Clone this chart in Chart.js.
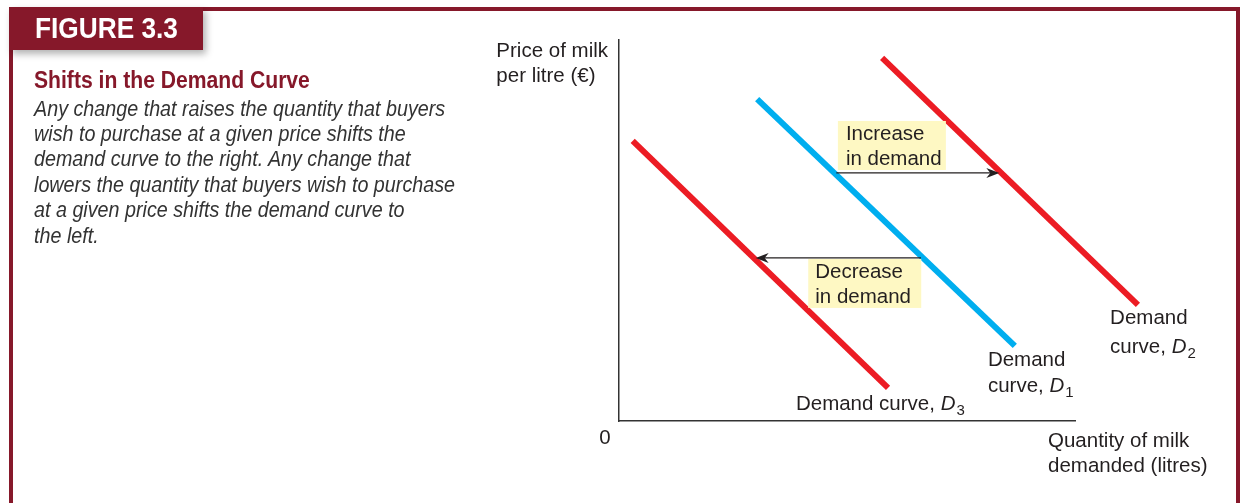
<!DOCTYPE html>
<html>
<head>
<meta charset="utf-8">
<script src="https://cdn.jsdelivr.net/npm/chart.js@4.4.0/dist/chart.umd.min.js"></script>
<style>
  html, body { margin: 0; padding: 0; background: #fff; }
  #wrap { position: relative; width: 1244px; height: 503px; overflow: hidden; }
  #myChart { position: absolute; left: 0; top: 0; }
  .frame { position: absolute; left: 9px; top: 7px; width: 1223px; height: 520px;
    border-top: 4px solid #86182a; border-left: 4px solid #86182a; border-right: 4px solid #86182a; }
  .tab { position: absolute; left: 9px; top: 7px; width: 194px; height: 43px; background: #86182a;
    box-shadow: 3px 4px 7px rgba(0,0,0,0.3); }
  .fit { position: absolute; white-space: nowrap; transform-origin: 0 0; font-family: "Liberation Sans", Arial, sans-serif; }
  .tabtxt { left: 35px; top: 12px; color: #fff; font-weight: bold; font-size: 29px; line-height: 32px; }
  .title { left: 34px; top: 67px; color: #86182a; font-weight: bold; font-size: 23.5px; line-height: 26px; }
  .desc { left: 34px; color: #333; font-style: italic; font-size: 21.5px; line-height: 24px; }
</style>
</head>
<body>
<div id="wrap">
  <canvas id="myChart" width="1244" height="503"></canvas>
  <div class="frame"></div>
  <div class="tab"></div>
  <div class="fit tabtxt" data-w="143">FIGURE 3.3</div>
  <div class="fit title" data-w="276">Shifts in the Demand Curve</div>
  <div class="fit desc" style="top:97px" data-w="411">Any change that raises the quantity that buyers</div>
  <div class="fit desc" style="top:122px">wish to purchase at a given price shifts the</div>
  <div class="fit desc" style="top:147px">demand curve to the right. Any change that</div>
  <div class="fit desc" style="top:173px">lowers the quantity that buyers wish to purchase</div>
  <div class="fit desc" style="top:198px">at a given price shifts the demand curve to</div>
  <div class="fit desc" style="top:224px">the left.</div>
</div>
<script>
// squeeze the side panel text to a condensed look
(function () {
  const els = document.querySelectorAll(".fit");
  let descScale = 1;
  els.forEach((el) => {
    if (el.dataset.w) {
      const s = Number(el.dataset.w) / el.offsetWidth;
      el.style.transform = "scaleX(" + s + ")";
      if (el.classList.contains("desc")) descScale = s;
    }
  });
  els.forEach((el) => {
    if (!el.dataset.w && el.classList.contains("desc")) el.style.transform = "scaleX(" + descScale + ")";
  });
})();

// demand curves: quantity (x) and price (y) at the two ends of each line
const d1Quantity = [3.03, 8.68];
const d1Price = [8.45, 1.97];
const d2Quantity = [5.77, 11.38];
const d2Price = [9.53, 3.05];
const d3Quantity = [0.30, 5.90];
const d3Price = [7.35, 0.87];

// prices at which the shift arrows are drawn
const increasePrice = 6.51;
const decreasePrice = 4.28;

const RED = "#ec1c24";
const BLUE = "#00aeef";
const TXT = "#231f20";
const FONT = '"Liberation Sans", Arial, sans-serif';
const FS = 20.5;

const pts = (xs, ys) => xs.map((x, i) => ({ x: x, y: ys[i] }));

// quantity on a curve at a given price
function qAt(xs, ys, p) {
  return xs[0] + (p - ys[0]) * (xs[1] - xs[0]) / (ys[1] - ys[0]);
}

function arrow(ctx, x0, x1, y) {
  ctx.save();
  ctx.strokeStyle = TXT;
  ctx.fillStyle = TXT;
  ctx.lineWidth = 1.2;
  const dir = Math.sign(x1 - x0);
  ctx.beginPath();
  ctx.moveTo(x0, y);
  ctx.lineTo(x1 - dir * 6, y);
  ctx.stroke();
  ctx.beginPath();
  ctx.moveTo(x1, y);
  ctx.lineTo(x1 - dir * 13, y - 5);
  ctx.lineTo(x1 - dir * 9, y);
  ctx.lineTo(x1 - dir * 13, y + 5);
  ctx.closePath();
  ctx.fill();
  ctx.restore();
}

function box(ctx, x, y, w, h) {
  ctx.save();
  ctx.fillStyle = "#fef8c3";
  ctx.fillRect(x, y, w, h);
  ctx.restore();
}

// text with an italic D and a subscript number
function curveLabel(ctx, x, y, pre, num) {
  ctx.font = FS + "px " + FONT;
  ctx.fillText(pre, x, y);
  let w = ctx.measureText(pre).width;
  ctx.font = "italic " + FS + "px " + FONT;
  ctx.fillText("D", x + w, y);
  w += ctx.measureText("D").width;
  ctx.font = "15px " + FONT;
  ctx.fillText(num, x + w + 1, y + 7);
  ctx.font = FS + "px " + FONT;
}

const annotations = {
  id: "annotations",
  afterDatasetsDraw(chart) {
    const { ctx, scales: { x, y } } = chart;
    const X = (v) => x.getPixelForValue(v);
    const Y = (v) => y.getPixelForValue(v);

    // shift arrows
    const yi = Y(increasePrice);
    const yd = Y(decreasePrice);
    box(ctx, X(4.8), yi - 52, 108, 49);
    box(ctx, X(4.15), yd + 1, 113, 49);
    arrow(ctx, X(qAt(d1Quantity, d1Price, increasePrice)) + 2, X(qAt(d2Quantity, d2Price, increasePrice)) - 2, yi);
    arrow(ctx, X(qAt(d1Quantity, d1Price, decreasePrice)) - 2, X(qAt(d3Quantity, d3Price, decreasePrice)) + 2, yd);

    ctx.save();
    ctx.fillStyle = TXT;
    ctx.textBaseline = "middle";
    ctx.textAlign = "left";
    ctx.font = FS + "px " + FONT;
    ctx.fillText("Increase", X(4.8) + 8, yi - 39);
    ctx.fillText("in demand", X(4.8) + 8, yi - 14);
    ctx.fillText("Decrease", X(4.15) + 7, yd + 14);
    ctx.fillText("in demand", X(4.15) + 7, yd + 39);

    // curve labels
    ctx.fillText("Demand", X(10.77), Y(2.70));
    curveLabel(ctx, X(10.77), Y(2.70) + 29, "curve, ", "2");
    ctx.fillText("Demand", X(8.09), Y(1.60));
    curveLabel(ctx, X(8.09), Y(1.60) + 26, "curve, ", "1");
    curveLabel(ctx, X(3.88), Y(0.45), "Demand curve, ", "3");

    // axis titles and origin
    const a = chart.chartArea;
    const w1 = ctx.measureText("Price of milk").width;
    ctx.fillText("Price of milk", a.left - 11 - w1, a.top + 11);
    ctx.fillText("per litre (\u20ac)", a.left - 11 - w1, a.top + 36);
    ctx.textAlign = "center";
    ctx.fillText("0", a.left - 14, a.bottom + 17);
    ctx.textAlign = "left";
    ctx.fillText("Quantity of milk", a.right - 27, a.bottom + 20);
    ctx.fillText("demanded (litres)", a.right - 27, a.bottom + 45);
    ctx.restore();
  }
};

const lineStyle = (color) => ({
  borderColor: color,
  borderWidth: 6,
  pointRadius: 0,
  showLine: true,
  clip: false,
  borderCapStyle: "butt",
});

const data = {
  datasets: [
    { label: "Demand curve, D1", data: pts(d1Quantity, d1Price), ...lineStyle(BLUE) },
    { label: "Demand curve, D2", data: pts(d2Quantity, d2Price), ...lineStyle(RED) },
    { label: "Demand curve, D3", data: pts(d3Quantity, d3Price), ...lineStyle(RED) },
  ],
};

const config = {
  type: "scatter",
  data: data,
  options: {
    responsive: false,
    animation: false,
    events: [],
    layout: { padding: { left: 611, top: 40, right: 169, bottom: 74 } },
    plugins: {
      legend: { display: false },
      tooltip: { enabled: false },
    },
    scales: {
      x: {
        type: "linear",
        min: 0,
        max: 10,
        grid: { display: false },
        ticks: { display: false },
        border: { display: true, color: "#333", width: 1.5 },
      },
      y: {
        type: "linear",
        min: 0,
        max: 10,
        grid: { display: false },
        ticks: { display: false },
        border: { display: true, color: "#333", width: 1.5 },
      },
    },
  },
  plugins: [annotations],
};

const ctx = document.getElementById("myChart");
const myChart = new Chart(ctx, config);
</script>
</body>
</html>
